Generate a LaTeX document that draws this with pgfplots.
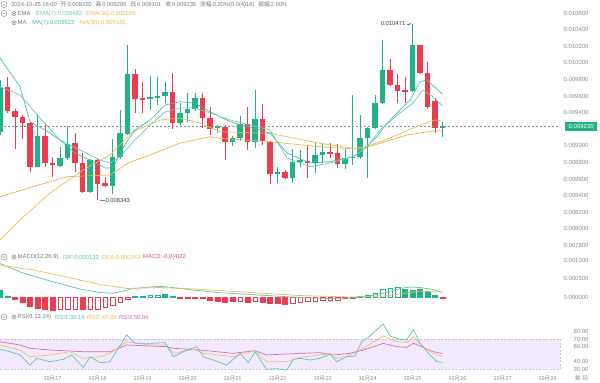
\documentclass[border=0pt]{standalone}
\usepackage{pgfplots}
\pgfplotsset{compat=1.18}
\usepackage{pgfplotstable}
\usetikzlibrary{arrows.meta}
\usepackage{fontspec}
\setmainfont{Liberation Sans}
\newfontfamily\cjk{Noto Sans CJK SC}
\definecolor{cgreen}{HTML}{20B288}
\definecolor{cred}{HTML}{EB3C50}
\definecolor{ema7}{HTML}{6CC9C0}
\definecolor{ma7}{HTML}{46BFA6}
\definecolor{ema30}{HTML}{E8C050}
\definecolor{ma30}{HTML}{F0B24A}
\definecolor{tgray}{HTML}{8C8C8C}
\definecolor{hgray}{HTML}{7A7A7A}
\definecolor{band}{HTML}{F2EAFC}
\definecolor{bandline}{HTML}{CDBDE6}
\definecolor{rsi1}{HTML}{5CC6B6}
\definecolor{rsi2}{HTML}{F0C070}
\definecolor{rsi3}{HTML}{CF6FB8}
\definecolor{macdc}{HTML}{D9546A}
\newcommand\hf{\fontsize{5.9}{7}\selectfont}

\pgfplotstableread{
x o h l c
15.8333 0.009162 0.009793 0.009130 0.009700
16.6667 0.008748 0.009383 0.008740 0.009121
17.1667 0.008756 0.008982 0.008748 0.008856
17.3333 0.008849 0.009238 0.008829 0.009021
17.8333 0.008447 0.008844 0.008435 0.008829
18.3333 0.008519 0.009078 0.008419 0.008868
18.5000 0.008868 0.009431 0.008840 0.009150
18.6667 0.009142 0.010214 0.009130 0.009861
19.1667 0.009560 0.009841 0.009431 0.009591
19.3333 0.009584 0.009832 0.009491 0.009600
19.5000 0.009603 0.009772 0.009512 0.009644
19.8333 0.009278 0.009512 0.009250 0.009399
20.0000 0.009399 0.009640 0.009290 0.009440
20.1667 0.009440 0.009640 0.009423 0.009572
20.6667 0.009211 0.009250 0.009154 0.009238
21.0000 0.009042 0.009118 0.008997 0.009090
21.1667 0.009090 0.009359 0.009058 0.009262
21.5000 0.009049 0.009672 0.008970 0.009319
22.0000 0.008660 0.008748 0.008548 0.008688
22.3333 0.008608 0.008958 0.008555 0.008801
22.5000 0.008808 0.008949 0.008748 0.008829
22.8333 0.008796 0.009030 0.008668 0.008889
23.0000 0.008889 0.009030 0.008789 0.008929
23.5000 0.008780 0.008958 0.008717 0.008856
23.6667 0.008856 0.009612 0.008768 0.008868
23.8333 0.008868 0.009371 0.008837 0.009097
24.0000 0.009097 0.009226 0.008608 0.009211
24.1667 0.009211 0.009612 0.009202 0.009512
24.3333 0.009512 0.010275 0.009503 0.009913
25.0000 0.009664 0.010471 0.009652 0.010214
25.6667 0.009220 0.009285 0.009101 0.009235
}\greenC

\pgfplotstableread{
x o h l c
16.0000 0.009705 0.009832 0.009395 0.009419
16.1667 0.009423 0.009443 0.008961 0.009350
16.3333 0.009350 0.009371 0.009078 0.009271
16.5000 0.009271 0.009290 0.008688 0.008741
16.8333 0.009121 0.009278 0.008748 0.008789
17.0000 0.008796 0.008861 0.008620 0.008765
17.5000 0.009030 0.009158 0.008688 0.008796
17.6667 0.008796 0.008909 0.008427 0.008447
18.0000 0.008829 0.008853 0.008343 0.008539
18.1667 0.008548 0.008627 0.008507 0.008519
18.8333 0.009861 0.009922 0.009399 0.009564
19.0000 0.009572 0.009772 0.009399 0.009552
19.6667 0.009644 0.009873 0.009199 0.009278
20.3333 0.009572 0.009640 0.009211 0.009331
20.5000 0.009331 0.009471 0.009130 0.009199
20.8333 0.009230 0.009250 0.008829 0.009046
21.3333 0.009262 0.009464 0.008949 0.009049
21.6667 0.009319 0.009503 0.009009 0.009058
21.8333 0.009049 0.009058 0.008539 0.008660
22.1667 0.008688 0.008708 0.008600 0.008608
22.6667 0.008820 0.009009 0.008608 0.008796
23.1667 0.008929 0.009037 0.008853 0.008909
23.3333 0.008909 0.009021 0.008729 0.008780
24.5000 0.009913 0.010042 0.009720 0.009732
24.6667 0.009732 0.009865 0.009519 0.009660
24.8333 0.009672 0.009832 0.009519 0.009652
25.1667 0.010214 0.010214 0.009865 0.009873
25.3333 0.009873 0.010013 0.009440 0.009471
25.5000 0.009543 0.009572 0.009150 0.009211
}\redC

% MACD histogram: green filled, green hollow, red filled, red hollow
\pgfplotstableread{
x y
15.8333 0.000197
16.0000 0.000040
18.8333 0.000030
19.0000 0.000030
19.5000 0.000072
19.6667 0.000020
23.8333 0.000027
24.8333 0.000215
25.0000 0.000197
25.1667 0.000215
25.3333 0.000153
25.5000 0.000046
}\gf
\pgfplotstableread{
x y
19.1667 0.000062
19.3333 0.000062
24.0000 0.000062
24.1667 0.000108
24.3333 0.000215
24.5000 0.000242
24.6667 0.000269
}\gh
\pgfplotstableread{
x y
16.1667 -0.000040
16.3333 -0.000143
16.5000 -0.000250
16.6667 -0.000296
16.8333 -0.000323
17.0000 -0.000341
17.6667 -0.000331
19.8333 -0.000020
20.0000 -0.000027
20.1667 -0.000027
20.3333 -0.000027
20.5000 -0.000080
20.6667 -0.000108
20.8333 -0.000126
21.0000 -0.000108
21.3333 -0.000126
21.6667 -0.000134
21.8333 -0.000153
22.0000 -0.000169
22.1667 -0.000180
23.5000 -0.000027
23.6667 -0.000019
25.6667 -0.000022
}\rf
\pgfplotstableread{
x y
17.1667 -0.000323
17.3333 -0.000323
17.5000 -0.000315
17.8333 -0.000320
18.0000 -0.000310
18.1667 -0.000270
18.3333 -0.000215
18.5000 -0.000143
18.6667 -0.000054
21.1667 -0.000108
21.5000 -0.000108
22.3333 -0.000161
22.5000 -0.000134
22.6667 -0.000116
22.8333 -0.000100
23.0000 -0.000089
23.1667 -0.000080
23.3333 -0.000072
}\rh

\pgfplotsset{panel/.style={scale only axis, width=560bp, xmin=15.8333, xmax=28.2778,
  axis line style={draw=none}, major tick length=0pt, clip=false, xtick=\empty,
  scaled y ticks=false, scaled x ticks=false,
  yticklabel pos=right,
  yticklabel style={font=\fontsize{6}{7}\selectfont, text=tgray, anchor=east, xshift=32bp}},
  candle/.style 2 args={draw=none, mark=none, forget plot, error bars/.cd, y dir=both, y explicit, error mark=none,
  error bar style={line width=#1, draw=#2, solid}}}

\begin{document}
\begin{tikzpicture}
\useasboundingbox (0,0) rectangle (600bp,-383bp);
% ---------- price panel
\begin{axis}[panel, at={(0,0)}, anchor=north west, height=250bp,
  ymin=0.007744, ymax=0.010757,
  ytick={0.0078,0.008,0.0082,0.0084,0.0086,0.0088,0.009,0.0094,0.0096,0.0098,0.01,0.0102,0.0104,0.0106},
  yticklabels={0.007800,0.008000,0.008200,0.008400,0.008600,0.008800,0.009000,0.009400,0.009600,0.009800,0.010000,0.010200,0.010400,0.010600}]
\addplot[candle={0.8bp}{cgreen}] table[x=x, y expr={(\thisrow{h}+\thisrow{l})/2}, y error expr={(\thisrow{h}-\thisrow{l})/2}] {\greenC};
\addplot[candle={0.8bp}{cred}] table[x=x, y expr={(\thisrow{h}+\thisrow{l})/2}, y error expr={(\thisrow{h}-\thisrow{l})/2}] {\redC};
\addplot[candle={5.2bp}{cgreen}] table[x=x, y expr={(\thisrow{o}+\thisrow{c})/2}, y error expr={abs(\thisrow{c}-\thisrow{o})/2}] {\greenC};
\addplot[candle={5.2bp}{cred}] table[x=x, y expr={(\thisrow{o}+\thisrow{c})/2}, y error expr={abs(\thisrow{c}-\thisrow{o})/2}] {\redC};
% current price line
\addplot[tgray, line width=0.5bp, dash pattern=on 2bp off 2bp] coordinates {(15.8333,0.009235) (28.2778,0.009235)};
% MA30
\addplot[ma30, line width=0.7bp, mark=none] coordinates {(15.833,0.008386) (16.567,0.008507) (17.315,0.008627) (18.278,0.008648) (18.678,0.008792) (19.167,0.008889) (19.833,0.009033) (20.5,0.009109) (20.722,0.009090) (21.833,0.009049) (22.944,0.008989) (23.833,0.008958) (24.278,0.009030) (24.878,0.009130) (25.5,0.009182) (25.667,0.009181)};
% EMA30
\addplot[ema30, line width=0.7bp, mark=none] coordinates {(15.833,0.007865) (16.278,0.008106) (16.944,0.008431) (17.678,0.008708) (18.278,0.008889) (18.789,0.009170) (19.389,0.009311) (19.833,0.009335) (20.278,0.009274) (20.722,0.009170) (21.833,0.009150) (22.944,0.009030) (23.678,0.008970) (23.989,0.008989) (24.567,0.009109) (25.167,0.009250) (25.5,0.009311) (25.667,0.009298)};
% MA7
\addplot[ma7, line width=0.7bp, mark=none] coordinates {(15.833,0.010058) (16.278,0.009712) (16.5,0.009290) (16.833,0.009190) (17.167,0.009070) (17.5,0.008913) (17.833,0.008829) (18.167,0.008732) (18.344,0.008732) (18.5,0.008913) (18.678,0.009070) (18.833,0.009190) (19.167,0.009311) (19.5,0.009491) (19.833,0.009531) (20.167,0.009515) (20.5,0.009411) (20.944,0.009290) (21.833,0.009154) (22.211,0.008913) (22.722,0.008792) (23.167,0.008808) (23.678,0.008868) (23.9,0.008949) (24.211,0.009109) (24.433,0.009274) (24.722,0.009431) (24.944,0.009552) (25.167,0.009772) (25.322,0.009793) (25.667,0.009623)};
% EMA7
\addplot[ema7, line width=0.7bp, mark=none] coordinates {(15.833,0.009712) (16.278,0.009612) (16.722,0.009335) (17.167,0.009070) (17.611,0.008949) (18.056,0.008829) (18.278,0.008792) (18.5,0.008865) (18.833,0.009070) (19.167,0.009250) (19.5,0.009407) (19.833,0.009455) (20.167,0.009455) (20.5,0.009395) (20.944,0.009311) (21.833,0.009190) (22.211,0.008853) (22.722,0.008748) (23.167,0.008792) (23.678,0.008868) (23.989,0.008989) (24.278,0.009190) (24.722,0.009395) (25.011,0.009515) (25.233,0.009672) (25.456,0.009591) (25.667,0.009482)};
% annotations
\draw[hgray, line width=0.4bp, -{Latex[length=1.6bp,width=1.8bp]}] ([xshift=7bp]axis cs:18,0.008343) -- ([xshift=2.5bp]axis cs:18,0.008343);
\node[anchor=west, inner sep=0, font=\hf, text=black!75] at ([xshift=7.8bp]axis cs:18,0.008343) {0.008343};
\draw[hgray, line width=0.4bp, -{Latex[length=1.6bp,width=1.8bp]}] ([xshift=-6bp]axis cs:25,0.010471) -- ([xshift=-1.5bp]axis cs:25,0.010471);
\node[anchor=east, inner sep=0, font=\hf, text=black!75] at ([xshift=-7bp]axis cs:25,0.010471) {0.010471};
\node[anchor=west, fill=cgreen, text=white, inner sep=0pt, minimum width=32bp, minimum height=9.5bp, font=\fontsize{6}{7}\selectfont] at ([xshift=5bp]axis cs:28.2778,0.009235) {0.009235};
\end{axis}
% ---------- MACD panel
\begin{axis}[panel, at={(0,-250bp)}, anchor=north west, height=60bp,
  ymin=-0.000341, ymax=0.001271,
  ytick={0,0.0005,0.001}, yticklabels={0.000000,0.000500,0.001000}]
\addplot[ybar, bar shift=0pt, bar width=5bp, fill=cgreen, draw=cgreen, line width=0.3bp] table[x=x,y=y] {\gf};
\addplot[ybar, bar shift=0pt, bar width=4.5bp, fill=white, draw=cgreen, line width=0.5bp] table[x=x,y=y] {\gh};
\addplot[ybar, bar shift=0pt, bar width=5bp, fill=cred, draw=cred, line width=0.3bp] table[x=x,y=y] {\rf};
\addplot[ybar, bar shift=0pt, bar width=4.5bp, fill=white, draw=cred, line width=0.5bp] table[x=x,y=y] {\rh};
% DIF
\addplot[rsi1, line width=0.7bp, mark=none] coordinates {(15.833,0.000909) (16.278,0.000680) (16.944,0.000438) (17.611,0.000223) (18.056,0.000129) (18.344,0.000108) (18.567,0.000169) (18.789,0.000237) (19.167,0.000277) (19.389,0.000296) (19.678,0.000263) (19.989,0.000215) (20.656,0.000129) (21.389,0.000075) (22.122,0.000022) (22.5,-0.000005) (23.167,-0.000032) (23.611,-0.000019) (23.989,0.000022) (24.344,0.000108) (24.722,0.000237) (24.944,0.000277) (25.167,0.000263) (25.456,0.000210) (25.667,0.000132)};
% DEA
\addplot[ema30, line width=0.7bp, mark=none] coordinates {(15.833,0.000868) (16.567,0.000734) (17.322,0.000546) (18.056,0.000344) (18.656,0.000237) (19.389,0.000263) (20.278,0.000215) (21.389,0.000129) (22.5,0.000048) (23.611,0.000008) (24.344,0.000035) (24.722,0.000089) (25.167,0.000169) (25.667,0.000143)};
\end{axis}
% ---------- RSI panel
\begin{axis}[panel, at={(0,-310bp)}, anchor=north west, height=63bp,
  ymin=25.07, ymax=109.07,
  ytick={30,40,60,70,80}, yticklabels={30.00,40.00,60.00,70.00,80.00},
  xtick={17,18,19,20,21,22,23,24,25,26,27,28},
  xticklabels={10月17,10月18,10月19,10月20,10月21,10月22,10月23,10月24,10月25,10月26,10月27,10月28},
  xticklabel style={font=\cjk\fontsize{5.6}{6}\selectfont, text=tgray, yshift=0.5bp}]
\addplot[fill=band, draw=none] coordinates {(15.8333,30) (15.8333,70) (28.2778,70) (28.2778,30)};
\addplot[bandline, line width=0.5bp, dash pattern=on 2bp off 1.5bp] coordinates {(15.8333,70) (28.2778,70) (28.2778,30) (15.8333,30)};
\addplot[rsi3, line width=0.7bp, mark=none] coordinates {(15.833,66.8) (16.278,62.4) (16.5,58) (16.944,55.7) (17.685,53.5) (18.278,53.5) (18.648,62.4) (19.537,60.2) (19.685,58) (20.278,55.7) (21.019,51.3) (21.5,54.8) (21.759,49.1) (22.5,51.3) (22.944,52.2) (23.241,49.1) (23.611,51.3) (23.907,55.7) (24.352,64.6) (24.648,60.2) (24.87,59.3) (25.019,64.6) (25.241,59.3) (25.463,53.5) (25.667,50.99)};
\addplot[rsi2, line width=0.7bp, mark=none] coordinates {(15.833,62.4) (16.278,55.7) (16.5,46.8) (16.944,49.1) (17.389,53.5) (17.685,44.6) (18.056,46.8) (18.278,51.3) (18.648,66.8) (19.167,62.4) (19.537,62.4) (19.685,51.3) (20.13,56.6) (20.352,51.3) (21.019,46.8) (21.5,54.8) (21.759,40.2) (22.204,40.2) (22.5,46) (22.944,49.1) (23.167,51.3) (23.315,44.6) (23.611,49.1) (23.907,58) (24.352,74.4) (24.648,66.8) (24.87,65.5) (25.019,73.5) (25.241,60.2) (25.463,51.3) (25.667,47.26)};
\addplot[rsi1, line width=0.7bp, mark=none] coordinates {(15.833,56.6) (16.056,53.5) (16.278,49.1) (16.5,35.7) (16.648,44.6) (16.944,40.2) (17.241,43.3) (17.426,49.1) (17.685,32.6) (17.833,46.8) (18.056,38.8) (18.278,40.2) (18.648,75.7) (18.833,64.6) (19.167,64.6) (19.5,65.5) (19.685,46.8) (19.981,55.7) (20.204,60.2) (20.352,46.8) (20.574,42.4) (20.87,35.7) (21.167,51.3) (21.352,38.8) (21.5,53.5) (21.759,30) (21.981,30.8) (22.204,29) (22.352,43.3) (22.5,44.6) (22.722,42.4) (22.944,44.6) (23.167,50.4) (23.315,40.2) (23.537,46.8) (23.722,47.7) (23.87,66.8) (24.019,72.6) (24.352,90.4) (24.5,74.4) (24.722,70) (24.87,69.1) (25.019,83.3) (25.167,64.6) (25.389,49.1) (25.537,40.2) (25.667,39.19)};
\end{axis}
% ---------- headers
\begin{scope}[hgray, line width=0.4bp]
\foreach \yy in {4.5,13.5,257,317}{
  \draw (4bp,-\yy bp) circle (3bp);
  \draw (2.7bp,-\yy bp+0.6bp) -- (4bp,-\yy bp-0.7bp) -- (5.3bp,-\yy bp+0.6bp);}
\foreach \yy in {13.5,22.7,257,317}{
  \draw (14bp,-\yy bp) circle (2.1bp);
  \fill (14bp,-\yy bp) circle (0.8bp);}
\end{scope}
\begin{scope}[every node/.style={anchor=west, inner sep=0pt, font=\hf}]
\node[text=hgray, font=\fontsize{5.8}{7}\selectfont] at (11bp,-4.5bp) {2024-10-25 16:00\hspace{4bp}{\cjk 开}\,0.009220\hspace{4bp}{\cjk 高}\,0.009285\hspace{4bp}{\cjk 低}\,0.009101\hspace{4bp}{\cjk 收}\,0.009235\hspace{4bp}{\cjk 涨幅}\,0.20\%(0.0(4)18)\hspace{4bp}{\cjk 振幅}\,2.00\%};
\node[text=hgray] at (17.5bp,-13.5bp) {EMA};
\node[text=ema7] at (36bp,-13.5bp) {EMA(7):0.009482};
\node[text=ema30] at (86bp,-13.5bp) {EMA(30):0.009298};
\node[text=hgray] at (17.5bp,-22.7bp) {MA};
\node[text=ma7] at (32bp,-22.7bp) {MA(7):0.009623};
\node[text=ema30] at (80bp,-22.7bp) {MA(30):0.009181};
\node[text=hgray] at (17.5bp,-257bp) {MACD(12,26,9)};
\node[text=rsi1] at (63bp,-257bp) {DIF:0.000132};
\node[text=ema30] at (102bp,-257bp) {DEA:0.000143};
\node[text=macdc] at (143bp,-257bp) {MACD:-0.0(4)22};
\node[text=hgray] at (17.5bp,-317bp) {RSI(6,12,24)};
\node[text=rsi1] at (55bp,-317bp) {RSI1:39.19};
\node[text=ema30] at (87bp,-317bp) {RSI2:47.26};
\node[text=rsi3] at (119bp,-317bp) {RSI3:50.99};
\node[text=tgray, font=\cjk\fontsize{5.6}{6}\selectfont] at (575bp,-378bp) {筹\,\,码};
\end{scope}
\end{tikzpicture}
\end{document}
